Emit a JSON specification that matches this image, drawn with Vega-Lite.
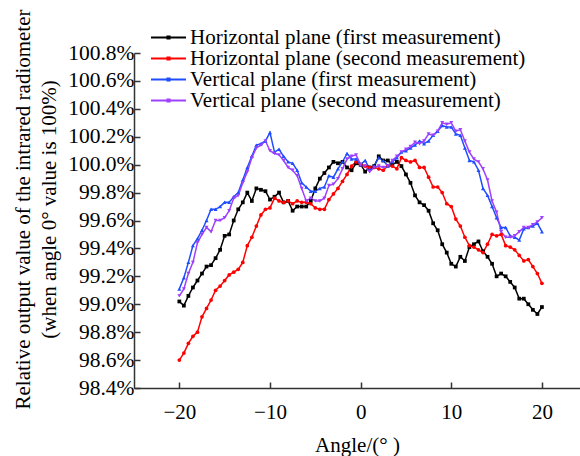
{
  "$schema": "https://vega.github.io/schema/vega-lite/v6.json",
  "width": 446,
  "height": 335,
  "autosize": {"type": "none"},
  "padding": {"left": 134, "top": 53, "right": 0, "bottom": 68},
  "background": "white",
  "config": {
    "view": {"stroke": null},
    "font": "Liberation Serif",
    "axis": {
      "grid": false,
      "domainColor": "#333333",
      "domainWidth": 1.5,
      "tickColor": "#333333",
      "tickWidth": 1.5,
      "tickSize": -6,
      "labelFont": "Liberation Serif",
      "labelFontSize": 21,
      "labelColor": "black",
      "titleFont": "Liberation Serif",
      "titleFontSize": 21,
      "titleFontWeight": "normal",
      "titleColor": "black"
    }
  },
  "data": {
    "values": [
      {"angle": -20, "h1": 99.02, "h2": 98.60, "v1": 99.11, "v2": 99.06},
      {"angle": -19.5, "h1": 98.99, "h2": 98.65, "v1": 99.19, "v2": 99.11},
      {"angle": -19, "h1": 99.06, "h2": 98.72, "v1": 99.30, "v2": 99.22},
      {"angle": -18.5, "h1": 99.12, "h2": 98.77, "v1": 99.42, "v2": 99.30},
      {"angle": -18, "h1": 99.17, "h2": 98.80, "v1": 99.47, "v2": 99.44},
      {"angle": -17.5, "h1": 99.22, "h2": 98.91, "v1": 99.53, "v2": 99.50},
      {"angle": -17, "h1": 99.27, "h2": 98.97, "v1": 99.60, "v2": 99.55},
      {"angle": -16.5, "h1": 99.28, "h2": 99.03, "v1": 99.68, "v2": 99.52},
      {"angle": -16, "h1": 99.33, "h2": 99.10, "v1": 99.68, "v2": 99.60},
      {"angle": -15.5, "h1": 99.39, "h2": 99.13, "v1": 99.70, "v2": 99.60},
      {"angle": -15, "h1": 99.49, "h2": 99.17, "v1": 99.73, "v2": 99.62},
      {"angle": -14.5, "h1": 99.50, "h2": 99.21, "v1": 99.73, "v2": 99.67},
      {"angle": -14, "h1": 99.60, "h2": 99.23, "v1": 99.77, "v2": 99.76},
      {"angle": -13.5, "h1": 99.68, "h2": 99.25, "v1": 99.80, "v2": 99.78},
      {"angle": -13, "h1": 99.73, "h2": 99.30, "v1": 99.89, "v2": 99.87},
      {"angle": -12.5, "h1": 99.80, "h2": 99.42, "v1": 99.98, "v2": 99.95},
      {"angle": -12, "h1": 99.74, "h2": 99.48, "v1": 100.06, "v2": 100.05},
      {"angle": -11.5, "h1": 99.83, "h2": 99.56, "v1": 100.14, "v2": 100.12},
      {"angle": -11, "h1": 99.82, "h2": 99.64, "v1": 100.15, "v2": 100.14},
      {"angle": -10.5, "h1": 99.81, "h2": 99.68, "v1": 100.17, "v2": 100.17},
      {"angle": -10, "h1": 99.75, "h2": 99.69, "v1": 100.23, "v2": 100.10},
      {"angle": -9.5, "h1": 99.77, "h2": 99.76, "v1": 100.09, "v2": 100.08},
      {"angle": -9, "h1": 99.80, "h2": 99.74, "v1": 100.11, "v2": 100.07},
      {"angle": -8.5, "h1": 99.73, "h2": 99.73, "v1": 100.06, "v2": 100.03},
      {"angle": -8, "h1": 99.74, "h2": 99.74, "v1": 100.02, "v2": 99.98},
      {"angle": -7.5, "h1": 99.67, "h2": 99.72, "v1": 100.01, "v2": 99.96},
      {"angle": -7, "h1": 99.70, "h2": 99.74, "v1": 99.96, "v2": 99.92},
      {"angle": -6.5, "h1": 99.70, "h2": 99.73, "v1": 99.87, "v2": 99.83},
      {"angle": -6, "h1": 99.70, "h2": 99.73, "v1": 99.84, "v2": 99.74},
      {"angle": -5.5, "h1": 99.74, "h2": 99.72, "v1": 99.81, "v2": 99.76},
      {"angle": -5, "h1": 99.83, "h2": 99.69, "v1": 99.81, "v2": 99.74},
      {"angle": -4.5, "h1": 99.90, "h2": 99.68, "v1": 99.83, "v2": 99.74},
      {"angle": -4, "h1": 99.94, "h2": 99.68, "v1": 99.84, "v2": 99.76},
      {"angle": -3.5, "h1": 99.98, "h2": 99.75, "v1": 99.92, "v2": 99.85},
      {"angle": -3, "h1": 100.02, "h2": 99.79, "v1": 99.91, "v2": 99.86},
      {"angle": -2.5, "h1": 100.01, "h2": 99.83, "v1": 99.97, "v2": 99.90},
      {"angle": -2, "h1": 100.02, "h2": 99.88, "v1": 100.02, "v2": 99.97},
      {"angle": -1.5, "h1": 99.98, "h2": 99.93, "v1": 100.08, "v2": 100.04},
      {"angle": -1, "h1": 99.96, "h2": 99.99, "v1": 100.04, "v2": 100.06},
      {"angle": -0.5, "h1": 100.01, "h2": 100.02, "v1": 100.04, "v2": 100.07},
      {"angle": 0, "h1": 100.00, "h2": 100.00, "v1": 100.00, "v2": 100.00},
      {"angle": 0.5, "h1": 99.95, "h2": 99.99, "v1": 100.03, "v2": 99.99},
      {"angle": 1, "h1": 99.98, "h2": 99.98, "v1": 99.97, "v2": 99.95},
      {"angle": 1.5, "h1": 99.99, "h2": 99.98, "v1": 99.99, "v2": 99.98},
      {"angle": 2, "h1": 100.06, "h2": 99.97, "v1": 100.05, "v2": 99.99},
      {"angle": 2.5, "h1": 100.03, "h2": 99.96, "v1": 100.03, "v2": 99.98},
      {"angle": 3, "h1": 100.03, "h2": 99.99, "v1": 99.99, "v2": 99.99},
      {"angle": 3.5, "h1": 100.00, "h2": 99.99, "v1": 100.02, "v2": 100.03},
      {"angle": 4, "h1": 100.02, "h2": 99.97, "v1": 100.05, "v2": 100.06},
      {"angle": 4.5, "h1": 99.99, "h2": 100.05, "v1": 100.09, "v2": 100.09},
      {"angle": 5, "h1": 99.93, "h2": 100.03, "v1": 100.10, "v2": 100.11},
      {"angle": 5.5, "h1": 99.87, "h2": 100.02, "v1": 100.12, "v2": 100.13},
      {"angle": 6, "h1": 99.78, "h2": 100.03, "v1": 100.14, "v2": 100.16},
      {"angle": 6.5, "h1": 99.73, "h2": 99.98, "v1": 100.17, "v2": 100.15},
      {"angle": 7, "h1": 99.71, "h2": 99.98, "v1": 100.15, "v2": 100.17},
      {"angle": 7.5, "h1": 99.67, "h2": 99.91, "v1": 100.17, "v2": 100.22},
      {"angle": 8, "h1": 99.58, "h2": 99.84, "v1": 100.21, "v2": 100.21},
      {"angle": 8.5, "h1": 99.53, "h2": 99.84, "v1": 100.24, "v2": 100.24},
      {"angle": 9, "h1": 99.43, "h2": 99.80, "v1": 100.28, "v2": 100.30},
      {"angle": 9.5, "h1": 99.37, "h2": 99.72, "v1": 100.27, "v2": 100.29},
      {"angle": 10, "h1": 99.29, "h2": 99.70, "v1": 100.27, "v2": 100.30},
      {"angle": 10.5, "h1": 99.27, "h2": 99.61, "v1": 100.22, "v2": 100.24},
      {"angle": 11, "h1": 99.34, "h2": 99.56, "v1": 100.21, "v2": 100.25},
      {"angle": 11.5, "h1": 99.31, "h2": 99.48, "v1": 100.12, "v2": 100.17},
      {"angle": 12, "h1": 99.41, "h2": 99.42, "v1": 100.03, "v2": 100.09},
      {"angle": 12.5, "h1": 99.43, "h2": 99.41, "v1": 100.02, "v2": 100.04},
      {"angle": 13, "h1": 99.45, "h2": 99.39, "v1": 99.96, "v2": 100.02},
      {"angle": 13.5, "h1": 99.38, "h2": 99.37, "v1": 99.83, "v2": 99.97},
      {"angle": 14, "h1": 99.34, "h2": 99.43, "v1": 99.78, "v2": 99.89},
      {"angle": 14.5, "h1": 99.29, "h2": 99.50, "v1": 99.70, "v2": 99.74},
      {"angle": 15, "h1": 99.20, "h2": 99.49, "v1": 99.62, "v2": 99.66},
      {"angle": 15.5, "h1": 99.22, "h2": 99.50, "v1": 99.55, "v2": 99.52},
      {"angle": 16, "h1": 99.20, "h2": 99.42, "v1": 99.55, "v2": 99.48},
      {"angle": 16.5, "h1": 99.16, "h2": 99.41, "v1": 99.49, "v2": 99.48},
      {"angle": 17, "h1": 99.12, "h2": 99.39, "v1": 99.48, "v2": 99.49},
      {"angle": 17.5, "h1": 99.04, "h2": 99.35, "v1": 99.46, "v2": 99.52},
      {"angle": 18, "h1": 99.04, "h2": 99.31, "v1": 99.54, "v2": 99.55},
      {"angle": 18.5, "h1": 99.00, "h2": 99.32, "v1": 99.55, "v2": 99.55},
      {"angle": 19, "h1": 98.96, "h2": 99.27, "v1": 99.56, "v2": 99.57},
      {"angle": 19.5, "h1": 98.93, "h2": 99.22, "v1": 99.58, "v2": 99.59},
      {"angle": 20, "h1": 98.98, "h2": 99.15, "v1": 99.52, "v2": 99.62}
    ]
  },
  "transform": [{"fold": ["h1", "h2", "v1", "v2"], "as": ["series", "value"]}],
  "encoding": {
    "x": {
      "field": "angle",
      "type": "quantitative",
      "scale": {"domain": [-25, 24.2], "nice": false, "zero": false},
      "axis": {"values": [-20, -10, 0, 10, 20], "title": "Angle/(° )", "labelFontSize": 21, "labelPadding": 19, "titlePadding": 12}
    },
    "y": {
      "field": "value",
      "type": "quantitative",
      "scale": {"domain": [98.4, 100.8], "nice": false, "zero": false},
      "axis": {
        "values": [98.4, 98.6, 98.8, 99, 99.2, 99.4, 99.6, 99.8, 100, 100.2, 100.4, 100.6, 100.8],
        "labelExpr": "format(datum.value, '.1f') + '%'",
        "labelFontSize": 21.5,
        "labelPadding": 6,
        "title": ["Relative output value of the intrared radiometer", "(when angle 0° value is 100%)"],
        "titleLineHeight": 26,
        "titleX": -111,
        "titleY": 156,
        "titleAlign": "center",
        "titleBaseline": "middle",
        "titleAngle": -90
      }
    }
  },
  "layer": [
    {
      "mark": {"type": "line", "strokeWidth": 1.5},
      "encoding": {
        "color": {
          "field": "series",
          "type": "nominal",
          "scale": {"domain": ["h1", "h2", "v1", "v2"], "range": ["#000000", "#ff0000", "#1f4dff", "#a040ff"]},
          "legend": {
            "orient": "none",
            "legendX": 24,
            "legendY": -26,
            "title": null,
            "symbolType": "M-2,0H2M-0.12,-0.12H0.12V0.12H-0.12Z",
            "symbolSize": 306,
            "symbolStrokeWidth": 2,
            "labelFont": "Liberation Serif",
            "labelFontSize": 21,
            "labelColor": "black",
            "labelOffset": 11,
            "rowPadding": -2,
            "labelLimit": 500,
            "labelExpr": "datum.label == 'h1' ? 'Horizontal plane (first measurement)' : datum.label == 'h2' ? 'Horizontal plane (second measurement)' : datum.label == 'v1' ? 'Vertical plane (first measurement)' : 'Vertical plane (second measurement)'"
          }
        }
      }
    },
    {
      "transform": [{"filter": "datum.series == 'h1'"}],
      "mark": {"type": "point", "shape": "square", "filled": true, "size": 14, "opacity": 1, "color": "#000000"}
    },
    {
      "transform": [{"filter": "datum.series == 'h2'"}],
      "mark": {"type": "point", "shape": "circle", "filled": true, "size": 14, "opacity": 1, "color": "#ff0000"}
    },
    {
      "transform": [{"filter": "datum.series == 'v1'"}],
      "mark": {"type": "point", "shape": "triangle-up", "filled": true, "size": 16, "opacity": 1, "color": "#1f4dff"}
    },
    {
      "transform": [{"filter": "datum.series == 'v2'"}],
      "mark": {"type": "point", "shape": "triangle-down", "filled": true, "size": 16, "opacity": 1, "color": "#a040ff"}
    }
  ]
}
